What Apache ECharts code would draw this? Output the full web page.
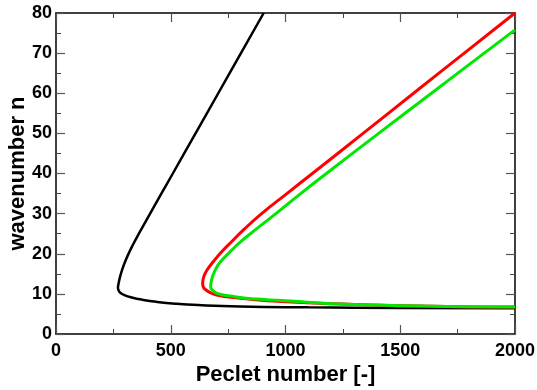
<!DOCTYPE html>
<html>
<head>
<meta charset="utf-8">
<script src="https://cdn.jsdelivr.net/npm/echarts@6/dist/echarts.min.js"></script>
<style>
  html, body { margin: 0; padding: 0; background: #fff; }
  #chart { width: 537px; height: 390px; }
</style>
</head>
<body>
<div id="chart"></div>
<script>
// Neutral stability curves: wavenumber n versus Peclet number.
// Each curve runs from the top of its upper branch, round the nose, out along the lower branch.
const blackPe = [905, 806, 707, 608, 509, 459, 410, 361, 333, 316, 301, 288, 278, 272.5, 270, 272.5, 280, 298, 330, 380, 440, 520, 620, 800, 1100, 1500, 2000];
const blackN  = [80, 70, 60, 50, 40, 35, 30, 25, 22, 20, 18, 16, 14, 12.5, 11.6, 10.9, 10.3, 9.7, 9.1, 8.5, 8.0, 7.55, 7.2, 6.85, 6.65, 6.5, 6.4];

const redPe = [2000, 1779, 1558, 1338, 1117, 1006, 896, 818, 765, 722, 685, 659, 644, 639, 642, 653, 672, 700, 745, 802, 870, 947, 1092, 1250, 1450, 1650, 1850, 2000];
const redN  = [80, 70, 60, 50, 40, 35, 30, 26, 23, 20.5, 18, 16, 14.3, 12.6, 11.7, 11.0, 10.3, 9.7, 9.25, 8.9, 8.55, 8.2, 7.8, 7.45, 7.1, 6.9, 6.75, 6.7];

const greenPe = [2000, 1866, 1636, 1406, 1178, 1066, 958, 869, 805, 766, 717, 694, 678, 674, 677, 686, 700, 724, 758, 810, 874, 945, 1020, 1200, 1400, 1600, 1800, 2000];
const greenN  = [75.8, 70, 60, 50, 40, 35, 30, 26, 23, 20.9, 18, 16, 13.5, 11.8, 11.2, 10.7, 10.2, 9.8, 9.5, 9.05, 8.7, 8.45, 8.2, 7.55, 7.2, 6.95, 6.8, 6.7];

const xTicks = { min: 0, max: 2000, interval: 500 };
const yTicks = { min: 0, max: 80, interval: 10 };

const zip = (xs, ys) => xs.map((x, i) => [x, ys[i]]);

const font = 'Liberation Sans, Arial, Helvetica, sans-serif';
const tickStyle = { show: true, inside: true, length: 9, lineStyle: { color: '#555', width: 1.2 } };
const minorStyle = { show: true, splitNumber: 2, length: 5, lineStyle: { color: '#444', width: 1 } };
const lineAxis = { show: true, onZero: false, lineStyle: { color: '#000', width: 1.5 } };
const labelStyle = { fontFamily: font, fontSize: 18, fontWeight: 'bold', color: '#000', formatter: v => String(v) };
const nameStyle = { fontFamily: font, fontSize: 22, fontWeight: 'bold', color: '#000' };

const chart = echarts.init(document.getElementById('chart'), null, { renderer: 'canvas' });

chart.setOption({
  animation: false,
  backgroundColor: '#fff',
  grid: { left: 56, right: 22, top: 13, bottom: 56, containLabel: false, outerBoundsMode: 'none' },
  xAxis: [
    {
      type: 'value', position: 'bottom', ...xTicks,
      axisLine: lineAxis, axisTick: tickStyle, minorTick: minorStyle,
      splitLine: { show: false }, minorSplitLine: { show: false },
      axisLabel: { ...labelStyle, margin: 8 },
      name: 'Peclet number [-]', nameLocation: 'middle', nameGap: 30, nameMoveOverlap: false,
      nameTextStyle: nameStyle
    },
    {
      type: 'value', position: 'top', ...xTicks,
      axisLine: lineAxis, axisTick: tickStyle, minorTick: minorStyle,
      splitLine: { show: false }, minorSplitLine: { show: false },
      axisLabel: { show: false }
    }
  ],
  yAxis: [
    {
      type: 'value', position: 'left', ...yTicks,
      axisLine: lineAxis, axisTick: tickStyle, minorTick: minorStyle,
      splitLine: { show: false }, minorSplitLine: { show: false },
      axisLabel: { ...labelStyle, margin: 4 },
      name: 'wavenumber n', nameLocation: 'middle', nameGap: 27, nameMoveOverlap: false,
      nameTextStyle: nameStyle
    },
    {
      type: 'value', position: 'right', ...yTicks,
      axisLine: lineAxis, axisTick: tickStyle, minorTick: minorStyle,
      splitLine: { show: false }, minorSplitLine: { show: false },
      axisLabel: { show: false }
    }
  ],
  series: [
    {
      type: 'line', data: zip(blackPe, blackN), xAxisIndex: 0, yAxisIndex: 0,
      showSymbol: false, smooth: 0.5,
      lineStyle: { color: '#000', width: 2.5 }
    },
    {
      type: 'line', data: zip(redPe, redN), xAxisIndex: 0, yAxisIndex: 0,
      showSymbol: false, smooth: 0.5,
      lineStyle: { color: '#ff0000', width: 3 }
    },
    {
      type: 'line', data: zip(greenPe, greenN), xAxisIndex: 0, yAxisIndex: 0,
      showSymbol: false, smooth: 0.5,
      lineStyle: { color: '#00e800', width: 3 }
    }
  ]
});
</script>
</body>
</html>
